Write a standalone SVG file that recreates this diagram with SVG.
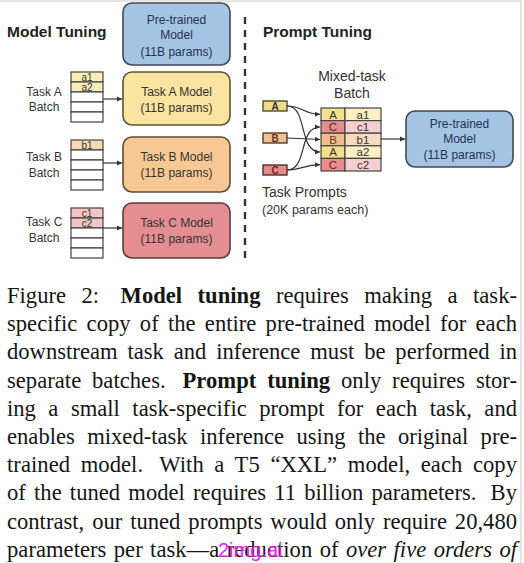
<svg xmlns="http://www.w3.org/2000/svg" width="524" height="563" viewBox="0 0 524 563">
<style>
.t{font-family:"Liberation Sans",Arial,sans-serif;fill:#333}
.h{font-family:"Liberation Sans",Arial,sans-serif;font-weight:bold;font-size:15.5px;fill:#222}
.bx{font-size:12px;text-anchor:middle}
.lb{font-size:12px;text-anchor:middle}
.cell{font-size:10px;text-anchor:middle}
.mc{font-size:11.5px;text-anchor:middle}
.cap{font-family:"Liberation Serif","Times New Roman",Tinos,Times,serif;font-size:22.6px;fill:#151515}
.frame{stroke:#3f4a55;stroke-width:1.6}
.tb{stroke:#444;stroke-width:1.2}
.con{fill:none;stroke:#333;stroke-width:1.2}
</style>
<defs>
<marker id="ah" markerWidth="6" markerHeight="6" refX="5" refY="3" orient="auto" markerUnits="userSpaceOnUse">
<path d="M0,0.5 L5,3 L0,5.5 Z" fill="#333"/>
</marker>
</defs>
<rect width="524" height="563" fill="#fff"/>
<path d="M0,1 H521 V563" fill="none" stroke="#dcdcdc" stroke-width="1.5"/>

<text class="h" x="7" y="37">Model Tuning</text>
<text class="h" x="263" y="37">Prompt Tuning</text>

<line x1="245" y1="17" x2="245" y2="258" stroke="#333" stroke-width="2.4" stroke-dasharray="7,6"/>

<g id="pretrained-left">
<rect x="123" y="3" width="107" height="62" rx="9" fill="#a5c4e4" class="frame"/>
<text class="t bx" x="176.5" y="24" style="fill:#1f3350">Pre-trained</text>
<text class="t bx" x="176.5" y="39" style="fill:#1f3350">Model</text>
<text class="t bx" x="176.5" y="56" style="fill:#1f3350">(11B params)</text>
</g>

<g id="task-a-model">
<rect x="123" y="72" width="107" height="53" rx="9" fill="#fbe3a0" stroke="#5c5438" stroke-width="1.6"/>
<text class="t bx" x="176.5" y="96">Task A Model</text>
<text class="t bx" x="176.5" y="112">(11B params)</text>
</g>
<g id="task-b-model">
<rect x="123" y="137" width="107" height="55" rx="9" fill="#f8c894" stroke="#5e4a36" stroke-width="1.6"/>
<text class="t bx" x="176.5" y="161">Task B Model</text>
<text class="t bx" x="176.5" y="177">(11B params)</text>
</g>
<g id="task-c-model">
<rect x="123" y="203" width="107" height="55" rx="9" fill="#e58e92" stroke="#5e3a3a" stroke-width="1.6"/>
<text class="t bx" x="176.5" y="227">Task C Model</text>
<text class="t bx" x="176.5" y="243">(11B params)</text>
</g>

<g id="task-a-batch">
<text class="t lb" x="44" y="96">Task A</text>
<text class="t lb" x="44" y="111">Batch</text>
<rect x="71" y="72" width="32" height="10" fill="#fbedb5" class="tb"/>
<rect x="71" y="82" width="32" height="10" fill="#fbedb5" class="tb"/>
<rect x="71" y="92" width="32" height="10" fill="#fff" class="tb"/>
<rect x="71" y="102" width="32" height="10" fill="#fff" class="tb"/>
<rect x="71" y="112" width="32" height="10" fill="#fff" class="tb"/>
<text class="t cell" x="87" y="80.5">a1</text>
<text class="t cell" x="87" y="90.5">a2</text>
</g>
<g id="task-b-batch">
<text class="t lb" x="44" y="161">Task B</text>
<text class="t lb" x="44" y="177">Batch</text>
<rect x="71" y="140" width="32" height="10" fill="#f9d8b4" class="tb"/>
<rect x="71" y="150" width="32" height="10" fill="#fff" class="tb"/>
<rect x="71" y="160" width="32" height="10" fill="#fff" class="tb"/>
<rect x="71" y="170" width="32" height="10" fill="#fff" class="tb"/>
<rect x="71" y="180" width="32" height="10" fill="#fff" class="tb"/>
<text class="t cell" x="87" y="148.5">b1</text>
</g>
<g id="task-c-batch">
<text class="t lb" x="44" y="226">Task C</text>
<text class="t lb" x="44" y="242">Batch</text>
<rect x="71" y="208" width="32" height="10" fill="#f2c4c4" class="tb"/>
<rect x="71" y="218" width="32" height="10" fill="#f2c4c4" class="tb"/>
<rect x="71" y="228" width="32" height="10" fill="#fff" class="tb"/>
<rect x="71" y="238" width="32" height="10" fill="#fff" class="tb"/>
<rect x="71" y="248" width="32" height="10" fill="#fff" class="tb"/>
<text class="t cell" x="87" y="216.5">c1</text>
<text class="t cell" x="87" y="226.5">c2</text>
</g>

<g id="mixed-label">
<text class="t" x="352" y="81" text-anchor="middle" font-size="14">Mixed-task</text>
<text class="t" x="352" y="98" text-anchor="middle" font-size="14">Batch</text>
</g>

<g id="prompt-a">
<rect x="263" y="101" width="24" height="10" fill="#f3dc87" stroke="#4e4a30" stroke-width="1.4"/>
<text class="t" x="275" y="109.5" text-anchor="middle" font-size="10" font-weight="bold">A</text>
</g>
<g id="prompt-b">
<rect x="263" y="133" width="24" height="10" fill="#f2c08f" stroke="#4e4030" stroke-width="1.4"/>
<text class="t" x="275" y="141.5" text-anchor="middle" font-size="10" font-weight="bold" style="fill:#6a3a20">B</text>
</g>
<g id="prompt-c">
<rect x="263" y="165" width="24" height="10" fill="#e48a8a" stroke="#4e3030" stroke-width="1.4"/>
<text class="t" x="275" y="173.5" text-anchor="middle" font-size="10" font-weight="bold" style="fill:#7a1e1e">C</text>
</g>

<g id="mixed-batch">
<rect x="321" y="108" width="24" height="12.6" fill="#f6df8a" class="tb"/>
<rect x="345" y="108" width="36" height="12.6" fill="#fcf1c2" class="tb"/>
<rect x="321" y="120.6" width="24" height="12.6" fill="#e68d8d" class="tb"/>
<rect x="345" y="120.6" width="36" height="12.6" fill="#f5cfcf" class="tb"/>
<rect x="321" y="133.2" width="24" height="12.6" fill="#f1bd8a" class="tb"/>
<rect x="345" y="133.2" width="36" height="12.6" fill="#f9dbc0" class="tb"/>
<rect x="321" y="145.8" width="24" height="12.6" fill="#f6df8a" class="tb"/>
<rect x="345" y="145.8" width="36" height="12.6" fill="#fcf1c2" class="tb"/>
<rect x="321" y="158.4" width="24" height="12.6" fill="#e68d8d" class="tb"/>
<rect x="345" y="158.4" width="36" height="12.6" fill="#f5cfcf" class="tb"/>
<text class="t mc" x="333" y="118.5">A</text>
<text class="t mc" x="363" y="118.5">a1</text>
<text class="t mc" x="333" y="131.1" style="fill:#6a1a1a">C</text>
<text class="t mc" x="363" y="131.1">c1</text>
<text class="t mc" x="333" y="143.7" style="fill:#6a3a20">B</text>
<text class="t mc" x="363" y="143.7">b1</text>
<text class="t mc" x="333" y="156.3">A</text>
<text class="t mc" x="363" y="156.3">a2</text>
<text class="t mc" x="333" y="168.9" style="fill:#6a1a1a">C</text>
<text class="t mc" x="363" y="168.9">c2</text>
</g>

<g id="pretrained-right">
<rect x="406" y="111" width="107" height="56" rx="9" fill="#a5c4e4" class="frame"/>
<text class="t bx" x="459.5" y="127.5" style="fill:#1f3350">Pre-trained</text>
<text class="t bx" x="459.5" y="142.5" style="fill:#1f3350">Model</text>
<text class="t bx" x="459.5" y="159" style="fill:#1f3350">(11B params)</text>
</g>

<g id="prompts-label">
<text class="t" x="262" y="197" font-size="14">Task Prompts</text>
<text class="t" x="262" y="214" font-size="12.5">(20K params each)</text>
</g>

<g id="connectors">
<line class="con" x1="103" y1="99" x2="122" y2="99" marker-end="url(#ah)"/>
<line class="con" x1="103" y1="163" x2="122" y2="163" marker-end="url(#ah)"/>
<line class="con" x1="103" y1="228" x2="122" y2="228" marker-end="url(#ah)"/>
<path class="con" d="M287,106 C302,106 304,114.3 320,114.3" marker-end="url(#ah)"/>
<path class="con" d="M287,106 C308,106 298,152 320,152" marker-end="url(#ah)"/>
<path class="con" d="M287,138 L320,139.5" marker-end="url(#ah)"/>
<path class="con" d="M287,170 C308,170 298,127 320,127" marker-end="url(#ah)"/>
<path class="con" d="M287,170 C302,170 304,164.7 320,164.7" marker-end="url(#ah)"/>
<line class="con" x1="381" y1="139" x2="405" y2="139" marker-end="url(#ah)"/>
</g>

<g id="caption">
<text class="cap" x="7" y="303" word-spacing="9.8" textLength="510" lengthAdjust="spacing">Figure 2: <tspan dx="6" font-weight="bold">Model tuning</tspan> requires making a task-</text>
<text class="cap" x="7" y="331.2" word-spacing="3.6" textLength="510" lengthAdjust="spacing">specific copy of the entire pre-trained model for each</text>
<text class="cap" x="7" y="359.4" word-spacing="4.2" textLength="510" lengthAdjust="spacing">downstream task and inference must be performed in</text>
<text class="cap" x="7" y="387.6" word-spacing="5.2" textLength="510" lengthAdjust="spacing">separate batches. <tspan dx="6" font-weight="bold">Prompt tuning</tspan> only requires stor-</text>
<text class="cap" x="7" y="415.8" word-spacing="6.8" textLength="510" lengthAdjust="spacing">ing a small task-specific prompt for each task, and</text>
<text class="cap" x="7" y="444" word-spacing="6.7" textLength="510" lengthAdjust="spacing">enables mixed-task inference using the original pre-</text>
<text class="cap" x="7" y="472.2" word-spacing="4.9" textLength="510" lengthAdjust="spacing">trained model. <tspan dx="6">With a T5 “XXL” model, each copy</tspan></text>
<text class="cap" x="7" y="500.4" word-spacing="2.5" textLength="510" lengthAdjust="spacing">of the tuned model requires 11 billion parameters. <tspan dx="6">By</tspan></text>
<text class="cap" x="7" y="528.6" word-spacing="2.3" textLength="510" lengthAdjust="spacing">contrast, our tuned prompts would only require 20,480</text>
<text class="cap" x="7" y="556.8" word-spacing="1.7" textLength="510" lengthAdjust="spacing">parameters per task—a reduction of <tspan font-style="italic">over five orders of</tspan></text>
</g>

<text x="218" y="557" font-family="'Liberation Sans',Arial,sans-serif" font-size="20" fill="#f020f0">2img.ai</text>
</svg>
